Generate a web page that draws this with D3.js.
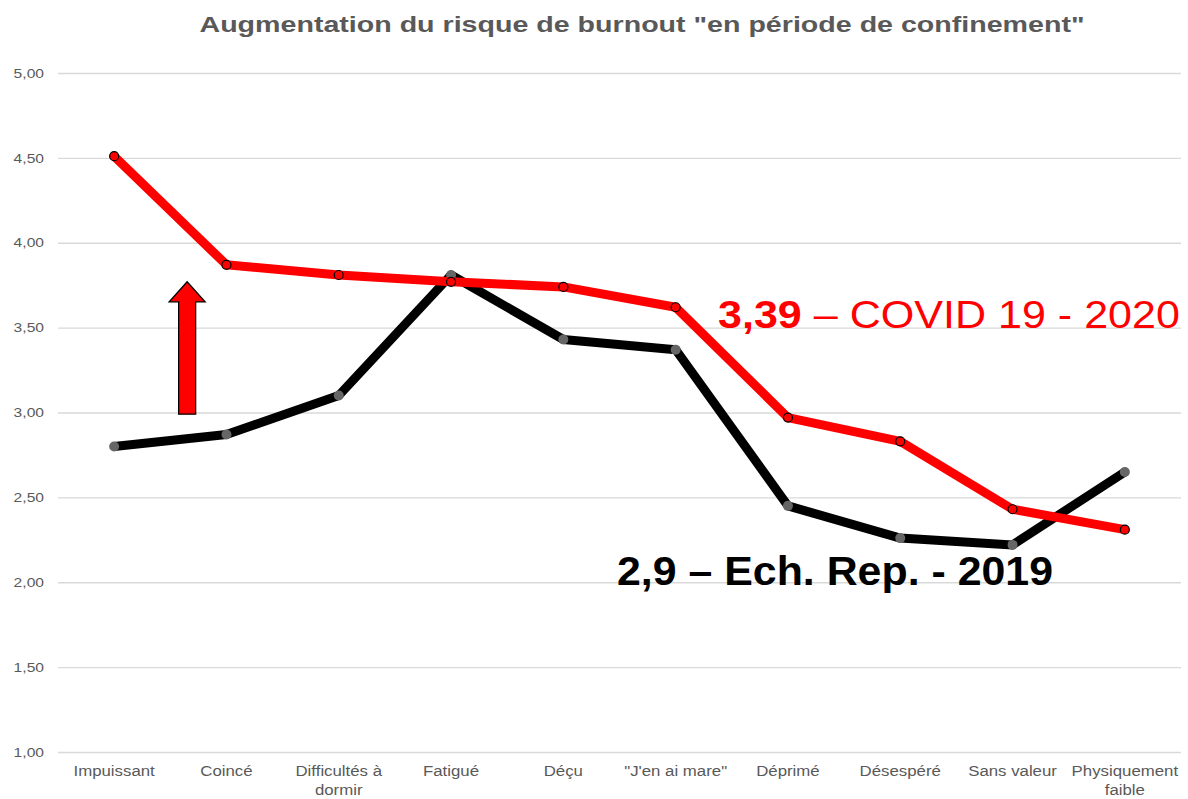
<!DOCTYPE html>
<html>
<head>
<meta charset="utf-8">
<script src="https://cdn.jsdelivr.net/npm/d3@7"></script>
<style>
  body { margin: 0; background: #fff; }
  text { font-family: "Liberation Sans", Arial, sans-serif; }
</style>
</head>
<body>
<div id="chart"></div>
<script>
// categories and series
var categories = ["Impuissant", "Coincé", "Difficultés à dormir", "Fatigué", "Déçu",
    "\"J'en ai mare\"", "Déprimé", "Désespéré", "Sans valeur", "Physiquement faible"];
var covid2020 = [4.51, 3.87, 3.81, 3.77, 3.74, 3.62, 2.97, 2.83, 2.43, 2.31];
var ech2019 = [2.80, 2.87, 3.10, 3.81, 3.43, 3.37, 2.45, 2.26, 2.22, 2.65];
var yTicks = [1, 1.5, 2, 2.5, 3, 3.5, 4, 4.5, 5];
var xLabelLines = [["Impuissant"], ["Coincé"], ["Difficultés à", "dormir"], ["Fatigué"], ["Déçu"],
    ["\"J'en ai mare\""], ["Déprimé"], ["Désespéré"], ["Sans valeur"], ["Physiquement", "faible"]];

var W = 1188, H = 799;
var margin = {top: 73, right: 7, bottom: 47, left: 58};
var width = W - margin.left - margin.right,
    height = H - margin.top - margin.bottom;

// the reference text is drawn a bit wider than the font's natural width
var STRETCH = 1.2;
function widen(sel, k) {
    sel.each(function() {
        var n = this.getComputedTextLength();
        d3.select(this)
            .attr("textLength", n * k)
            .attr("lengthAdjust", "spacingAndGlyphs");
    });
}
function fitTo(sel, w) {
    sel.attr("textLength", w).attr("lengthAdjust", "spacingAndGlyphs");
}

var svg = d3.select("#chart").append("svg")
    .attr("width", W)
    .attr("height", H);

var title = svg.append("text")
    .attr("x", 642)
    .attr("y", 32)
    .attr("text-anchor", "middle")
    .style("font-size", "22px")
    .style("font-weight", "bold")
    .style("fill", "#595959")
    .text("Augmentation du risque de burnout \"en période de confinement\"");
fitTo(title, 885);

var g = svg.append("g")
    .attr("transform", "translate(" + margin.left + "," + margin.top + ")");

var x = d3.scaleBand()
    .domain(categories)
    .range([0, width]);

var y = d3.scaleLinear()
    .domain([1, 5])
    .range([height, 0]);

var fmt = function(d) { return d3.format(".2f")(d).replace(".", ","); };

// grid lines + y labels
var yAxis = g.append("g")
    .call(d3.axisLeft(y).tickValues(yTicks).tickSize(-width).tickFormat(fmt));
yAxis.select(".domain").remove();
yAxis.selectAll(".tick line")
    .attr("stroke", "#d9d9d9")
    .attr("stroke-width", 1.3);
yAxis.selectAll(".tick text")
    .attr("x", -14)
    .style("font-size", "13px")
    .style("fill", "#595959")
    .call(widen, STRETCH);

// x labels
var xl = g.append("g")
    .attr("transform", "translate(0," + height + ")")
    .selectAll("text")
    .data(categories)
    .enter().append("text")
    .attr("x", function(d) { return x(d) + x.bandwidth() / 2; })
    .attr("y", 24)
    .attr("text-anchor", "middle")
    .style("font-size", "14px")
    .style("fill", "#595959");
xl.each(function(d, i) {
    var t = d3.select(this);
    xLabelLines[i].forEach(function(s, k) {
        t.append("tspan")
            .attr("x", x(d) + x.bandwidth() / 2)
            .attr("dy", k === 0 ? 0 : 19)
            .text(s);
    });
});
xl.selectAll("tspan").call(widen, STRETCH);

var line = d3.line()
    .x(function(d, i) { return x(categories[i]) + x.bandwidth() / 2; })
    .y(function(d) { return y(d); });

// arrow
var arrowX = x(categories[0]) + x.bandwidth() / 2 + 73,
    arrowTop = y(3.77),
    arrowBot = y(2.99);
var sw = 8.5, hw = 18, hh = 20;
g.append("path")
    .attr("d", "M" + (arrowX - sw) + "," + arrowBot +
        " L" + (arrowX - sw) + "," + (arrowTop + hh) +
        " L" + (arrowX - hw) + "," + (arrowTop + hh) +
        " L" + arrowX + "," + arrowTop +
        " L" + (arrowX + hw) + "," + (arrowTop + hh) +
        " L" + (arrowX + sw) + "," + (arrowTop + hh) +
        " L" + (arrowX + sw) + "," + arrowBot + " Z")
    .style("fill", "#ff0000")
    .style("stroke", "#000")
    .style("stroke-width", 1.3);

g.append("path")
    .datum(ech2019)
    .attr("d", line)
    .style("fill", "none")
    .style("stroke", "#000")
    .style("stroke-width", 9)
    .style("stroke-linejoin", "round");

g.selectAll(".pt2019")
    .data(ech2019)
    .enter().append("circle")
    .attr("class", "pt2019")
    .attr("cx", function(d, i) { return x(categories[i]) + x.bandwidth() / 2; })
    .attr("cy", function(d) { return y(d); })
    .attr("r", 5)
    .style("fill", "#666666");

g.append("path")
    .datum(covid2020)
    .attr("d", line)
    .style("fill", "none")
    .style("stroke", "#ff0000")
    .style("stroke-width", 9)
    .style("stroke-linejoin", "round");

g.selectAll(".pt2020")
    .data(covid2020)
    .enter().append("circle")
    .attr("class", "pt2020")
    .attr("cx", function(d, i) { return x(categories[i]) + x.bandwidth() / 2; })
    .attr("cy", function(d) { return y(d); })
    .attr("r", 4.5)
    .style("fill", "#ff0000")
    .style("stroke", "#000")
    .style("stroke-width", 1.2);

// annotations (scaled horizontally to the reference width)
var g1 = svg.append("g");
var a1 = g1.append("text")
    .attr("x", 0)
    .attr("y", 0)
    .style("font-size", "39px")
    .style("fill", "#ff0000");
a1.append("tspan").style("font-weight", "bold").text("3,39");
a1.append("tspan").text(" – COVID 19 - 2020");
var b1 = a1.node().getBBox();
g1.attr("transform", "translate(718,328) scale(" + (462 / b1.width) + ",1)");

var a2 = svg.append("text")
    .attr("x", 617)
    .attr("y", 585)
    .style("font-size", "40px")
    .style("font-weight", "bold")
    .style("fill", "#000")
    .text("2,9 – Ech. Rep. - 2019");
fitTo(a2, 436);
</script>
</body>
</html>
